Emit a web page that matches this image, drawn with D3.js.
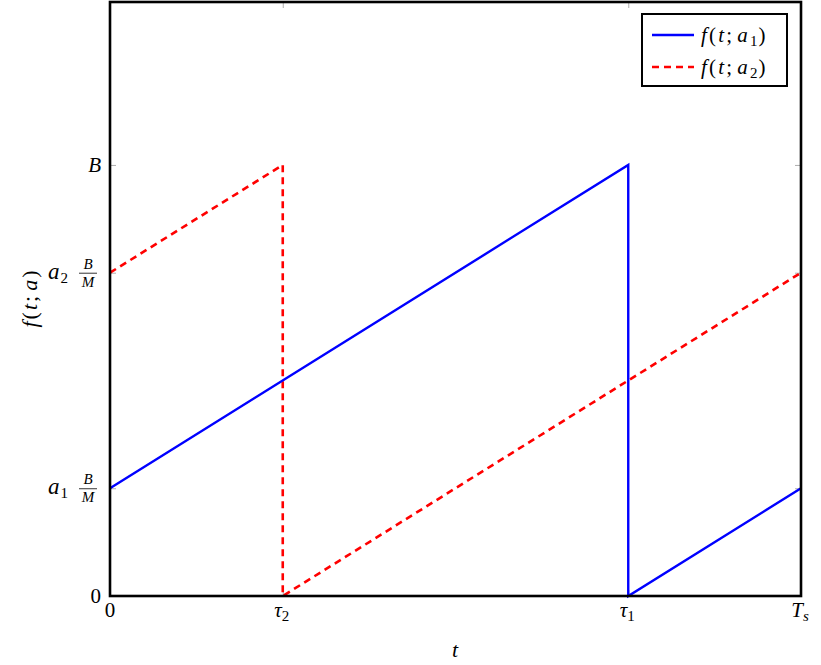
<!DOCTYPE html>
<html><head><meta charset="utf-8">
<script src="https://cdn.jsdelivr.net/npm/d3@7"></script>
<style>
body{margin:0;background:#fff;}
text{font-family:"Liberation Serif","DejaVu Serif",serif;}
</style></head>
<body><svg id="c" width="821" height="665"></svg>
<script>
// Data (t normalised to Ts = 1, f normalised to B = 1, M-scaled levels)
const xTickValues = [0, 0.25, 0.75, 1];
const xTickLabels = [["0",""],["τ","2"],["τ","1"],["T","s"]];
const yTickValues = [0, 0.25, 0.75, 1];
const yTickLabels = ["0", "a1", "a2", "B"];
const seriesNames = ["f(t; a1)", "f(t; a2)"];
const seriesA1T = [0, 0.75, 0.75, 1];
const seriesA1F = [0.25, 1, 0, 0.25];
const seriesA2T = [0, 0.25, 0.25, 1];
const seriesA2F = [0.75, 1, 0, 0.75];
const yMax = 1.378;

const svg = d3.select("#c");
const L = 110, R = 801, T = 2, Bt = 596;
const FS = 21, SUB = 15;
const x = d3.scaleLinear().domain([0, 1]).range([L, R]);
const y = d3.scaleLinear().domain([0, yMax]).range([Bt, T]);

const tickCol = "#999";
function styleAxis(g){ g.select(".domain").remove(); g.selectAll(".tick line").attr("stroke", tickCol).attr("stroke-width", 0.8); g.selectAll(".tick text").remove(); }

// ticks (inward) on all four sides
svg.append("g").attr("transform",`translate(0,${Bt})`).call(d3.axisBottom(x).tickValues(xTickValues).tickSizeInner(-6).tickSizeOuter(0)).call(styleAxis);
svg.append("g").attr("transform",`translate(0,${T})`).call(d3.axisTop(x).tickValues(xTickValues).tickSizeInner(-6).tickSizeOuter(0)).call(styleAxis);
svg.append("g").attr("transform",`translate(${L},0)`).call(d3.axisLeft(y).tickValues(yTickValues).tickSizeInner(-6).tickSizeOuter(0)).call(styleAxis);
svg.append("g").attr("transform",`translate(${R},0)`).call(d3.axisRight(y).tickValues(yTickValues).tickSizeInner(-6).tickSizeOuter(0)).call(styleAxis);

// lines
const line = d3.line().x(d => x(d[0])).y(d => y(d[1]));
const a1 = seriesA1T.map((t,i)=>[t, seriesA1F[i]]);
const a2 = seriesA2T.map((t,i)=>[t, seriesA2F[i]]);
svg.append("path").datum(a2).attr("d", line).attr("fill","none").attr("stroke","#ff0000").attr("stroke-width",2.6).attr("stroke-dasharray","7,5");
svg.append("path").datum(a1).attr("d", line).attr("fill","none").attr("stroke","#0000ff").attr("stroke-width",2.4);

// frame
svg.append("rect").attr("x",L).attr("y",T).attr("width",R-L).attr("height",Bt-T).attr("fill","none").attr("stroke","#000").attr("stroke-width",2.6);

// x tick labels
xTickValues.forEach((v,i)=>{
  const lab = xTickLabels[i];
  const t = svg.append("text").attr("x", x(v) + (lab[1]?-1:0)).attr("y", 617).attr("text-anchor","middle").attr("font-size",FS);
  t.append("tspan").attr("font-style", lab[0]==="0"?"normal":"italic").text(lab[0]);
  if (lab[1]) t.append("tspan").attr("font-size",SUB).attr("dy",4).attr("font-style", lab[0]==="T"?"italic":"normal").text(lab[1]);
});

// y tick labels
yTickValues.forEach((v,i)=>{
  const lab = yTickLabels[i];
  const yy = y(v);
  if (lab === "0" || lab === "B") {
    svg.append("text").attr("x", 101).attr("y", yy+7).attr("text-anchor","end").attr("font-size",FS)
      .attr("font-style", lab==="B"?"italic":"normal").text(lab);
  } else {
    const t = svg.append("text").attr("x", 48).attr("y", yy+6).attr("font-size",FS+2);
    t.append("tspan").attr("font-style","italic").text("a");
    t.append("tspan").attr("font-size",SUB).attr("dy",4).attr("dx",1).text(lab.slice(1));
    const fx = 88;
    svg.append("text").attr("x",fx).attr("y",yy-4).attr("text-anchor","middle").attr("font-size",SUB).attr("font-style","italic").text("B");
    svg.append("line").attr("x1",fx-9).attr("x2",fx+9).attr("y1",yy+0.5).attr("y2",yy+0.5).attr("stroke","#000").attr("stroke-width",0.8);
    svg.append("text").attr("x",fx).attr("y",yy+14).attr("text-anchor","middle").attr("font-size",SUB).attr("font-style","italic").text("M");
  }
});

// axis labels
svg.append("text").attr("x",455).attr("y",657).attr("text-anchor","middle").attr("font-size",FS+1).attr("font-style","italic").text("t");
const yl = svg.append("text").attr("transform","translate(37,298) rotate(-90)").attr("text-anchor","middle").attr("font-size",FS+1).attr("letter-spacing",2);
yl.append("tspan").attr("font-style","italic").text("f");
yl.append("tspan").text("(");
yl.append("tspan").attr("font-style","italic").text("t");
yl.append("tspan").text(";");
yl.append("tspan").attr("font-style","italic").attr("dx",3).text("a");
yl.append("tspan").text(")");

// legend
const lg = svg.append("g");
lg.append("rect").attr("x",642).attr("y",14).attr("width",145).attr("height",72).attr("fill","#fff").attr("stroke","#000").attr("stroke-width",2);
const legItems = [{c:"#0000ff",dash:null,sub:"1"},{c:"#ff0000",dash:"7,5",sub:"2"}];
legItems.forEach((it,i)=>{
  const ly = 35 + i*32;
  lg.append("line").attr("x1",652).attr("x2",694).attr("y1",ly).attr("y2",ly).attr("stroke",it.c).attr("stroke-width",2.4).attr("stroke-dasharray",it.dash);
  const t = lg.append("text").attr("x",701).attr("y",ly+7).attr("font-size",FS).attr("letter-spacing",2.2);
  t.append("tspan").attr("font-style","italic").text("f");
  t.append("tspan").text("(");
  t.append("tspan").attr("font-style","italic").text("t");
  t.append("tspan").text(";");
  t.append("tspan").attr("font-style","italic").attr("dx",3).text("a");
  t.append("tspan").attr("font-size",SUB).attr("dy",4).attr("letter-spacing",0).text(it.sub);
  t.append("tspan").attr("dy",-4).attr("dx",1).text(")");
});
</script></body></html>
